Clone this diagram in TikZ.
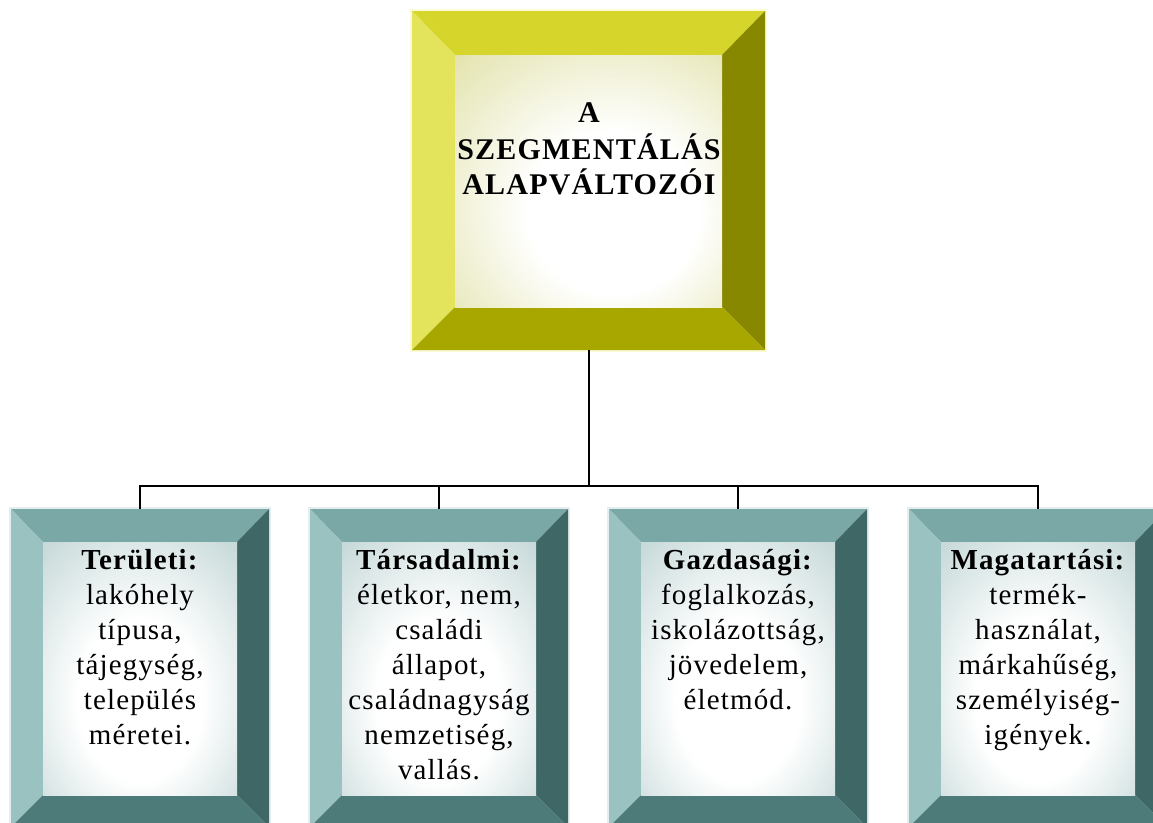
\documentclass[tikz,border=0pt]{standalone}
\usepackage{fontspec}
\setmainfont{Liberation Serif}
\newfontfamily\spaced[LetterSpace=4]{Liberation Serif}
\usetikzlibrary{calc}
\definecolor{ytop}{HTML}{D5D52B}
\definecolor{yleft}{HTML}{E3E35C}
\definecolor{yright}{HTML}{878700}
\definecolor{ybot}{HTML}{A7A700}
\definecolor{yhalo}{HTML}{FBFBD8}
\definecolor{ypale}{HTML}{DADA94}
\definecolor{ydeep}{HTML}{C4C46C}
\definecolor{ttop}{HTML}{7AA8A6}
\definecolor{tleft}{HTML}{9AC2C0}
\definecolor{tright}{HTML}{3F6766}
\definecolor{tbot}{HTML}{4D7B79}
\definecolor{thalo}{HTML}{E4EEEE}
\definecolor{tpale}{HTML}{ADC7C7}
\definecolor{tdeep}{HTML}{86A8A8}
\pgfdeclareradialshading{ypanel}{\pgfpoint{6bp}{-8bp}}{color(0bp)=(white); color(16bp)=(white); color(48bp)=(ypale); color(75bp)=(ydeep)}
\pgfdeclareradialshading{tpanel}{\pgfpoint{0bp}{-8bp}}{color(0bp)=(white); color(16bp)=(white); color(48bp)=(tpale); color(75bp)=(tdeep)}
\newcommand\bevelbox[5]{%
  \coordinate (#1-iNW) at ($(#1.north west)+(#2,#3)$);
  \coordinate (#1-iNE) at ($(#1.north east)+(-#2,#3)$);
  \coordinate (#1-iSW) at ($(#1.south west)+(#2,-#4)$);
  \coordinate (#1-iSE) at ($(#1.south east)+(-#2,-#4)$);
  \fill[#5halo] ($(#1.north west)+(-2,-2)$) rectangle ($(#1.south east)+(2,2)$);
  \fill[#5top] (#1.north west) -- (#1.north east) -- (#1-iNE) -- (#1-iNW) -- cycle;
  \fill[#5left] (#1.north west) -- (#1-iNW) -- (#1-iSW) -- (#1.south west) -- cycle;
  \fill[#5right] (#1.north east) -- (#1.south east) -- (#1-iSE) -- (#1-iNE) -- cycle;
  \fill[#5bot] (#1.south west) -- (#1-iSW) -- (#1-iSE) -- (#1.south east) -- cycle;
  \shade[shading=#5panel] (#1-iNW) rectangle (#1-iSE);
}
\begin{document}
\begin{tikzpicture}[x=1pt,y=-1pt,
  frame/.style={rectangle, inner sep=0pt, outer sep=0pt},
  topframe/.style={frame, minimum width=353pt, minimum height=339pt},
  subframe/.style={frame, minimum width=258pt, minimum height=318pt},
  toplabel/.style={anchor=north, inner sep=0pt, align=center,
    font=\spaced\bfseries\fontsize{30}{35}\selectfont},
  sublabel/.style={anchor=north, inner sep=0pt, align=center,
    font=\spaced\fontsize{29}{35}\selectfont},
  conn/.style={draw=black, line width=2pt}]
\useasboundingbox (0,0) rectangle (1153,822);
\fill[white] (0,0) rectangle (1153,822);
\begin{scope}
\clip (0,0) rectangle (1153,822);

\node[topframe] (top) at (588.5,180.5) {};
\bevelbox{top}{43}{44}{43}{y}
\node[toplabel] (toptext) at (589,97.5) {\strut A\\SZEGMENTÁLÁS\\ALAPVÁLTOZÓI};

\node[subframe] (b1) at (140,668) {};
\node[subframe] (b2) at (439,668) {};
\node[subframe] (b3) at (738,668) {};
\node[subframe] (b4) at (1038,668) {};
\bevelbox{b1}{32}{33}{32}{t}
\bevelbox{b2}{32}{33}{32}{t}
\bevelbox{b3}{32}{33}{32}{t}
\bevelbox{b4}{32}{33}{32}{t}

\node[sublabel] (t1) at (140,545) {\strut\textbf{Területi:}\\lakóhely\\típusa,\\tájegység,\\település\\méretei.};
\node[sublabel] (t2) at (439,545) {\strut\textbf{Társadalmi:}\\életkor, nem,\\családi\\állapot,\\családnagyság\\nemzetiség,\\vallás.};
\node[sublabel] (t3) at (738,545) {\strut\textbf{Gazdasági:}\\foglalkozás,\\iskolázottság,\\jövedelem,\\életmód.};
\node[sublabel] (t4) at (1038,545) {\strut\textbf{Magatartási:}\\termék-\\használat,\\márkahűség,\\személyiség-\\igények.};
\end{scope}

\coordinate (bus) at (588.5,486);
\draw[conn] (top.south) -- (bus);
\draw[conn] (b1.north) |- (bus);
\draw[conn] (b2.north) |- (bus);
\draw[conn] (b3.north) |- (bus);
\draw[conn] (b4.north) |- (bus);
\end{tikzpicture}
\end{document}
